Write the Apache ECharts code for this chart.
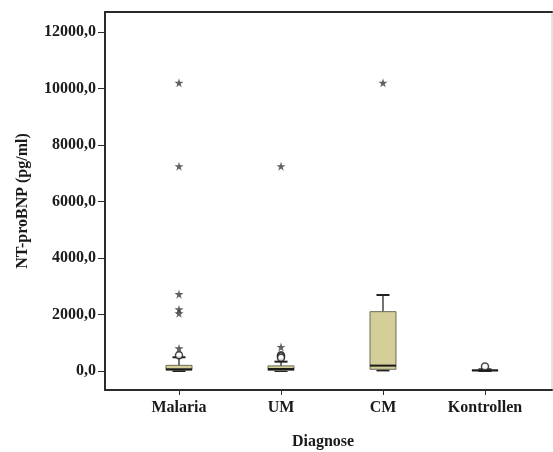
<!DOCTYPE html>
<html>
<head>
<meta charset="utf-8">
<script src="https://cdn.jsdelivr.net/npm/echarts@6/dist/echarts.min.js"></script>
<style>
  html, body { margin: 0; padding: 0; background: #fff; }
  #chart { width: 553px; height: 452px; }
</style>
</head>
<body>
<div id="chart"></div>
<script>
// Diagnosis groups along the x axis
const categories = ['Malaria', 'UM', 'CM', 'Kontrollen'];

// Five-number summaries per group: [min, Q1, median, Q3, max] in pg/ml
const boxStats = [
  [0, 30, 60, 200, 485],
  [0, 20, 70, 180, 330],
  [20, 60, 190, 2100, 2690],
  [0, 10, 20, 35, 60]
];

// Extreme values (asterisks) and outliers (circles) per group
const extremes = [
  [10200, 7250, 2720, 2180, 2040, 800],
  [7250, 850],
  [10200],
  []
];
const outliers = [
  [560],
  [560, 520, 470],
  [],
  [160]
];

// Tick labels on the value axis
const yTicks = [0, 2000, 4000, 6000, 8000, 10000, 12000];

const labelFont = {
  fontFamily: '"Liberation Serif", "Times New Roman", serif',
  fontWeight: 'bold',
  fontSize: 16,
  color: '#1a1a1a'
};

const positions = categories.map((c, i) => i + 1);

const boxData = boxStats.map((s, i) => [positions[i]].concat(s));
const extremeData = [];
extremes.forEach((vals, i) => vals.forEach(v => extremeData.push([positions[i], v])));
const outlierData = [];
outliers.forEach((vals, i) => vals.forEach(v => outlierData.push([positions[i], v])));

const starPath = 'path://M50,0 L61,35 L98,35 L68,57 L79,91 L50,70 L21,91 L32,57 L2,35 L39,35 Z';

function renderBox(params, api) {
  const x = api.value(0);
  const pMin = api.coord([x, api.value(1)]);
  const pQ1 = api.coord([x, api.value(2)]);
  const pMed = api.coord([x, api.value(3)]);
  const pQ3 = api.coord([x, api.value(4)]);
  const pMax = api.coord([x, api.value(5)]);
  const cx = pMed[0];
  const half = 13;
  const cap = 6.5;
  const lineStyle = { stroke: '#222', lineWidth: 2 };
  return {
    type: 'group',
    children: [
      { type: 'line', shape: { x1: cx, y1: pQ3[1], x2: cx, y2: pMax[1] }, style: { stroke: '#444', lineWidth: 1.5 } },
      { type: 'line', shape: { x1: cx, y1: pQ1[1], x2: cx, y2: pMin[1] }, style: { stroke: '#444', lineWidth: 1.5 } },
      { type: 'line', shape: { x1: cx - cap, y1: pMax[1], x2: cx + cap, y2: pMax[1] }, style: lineStyle },
      { type: 'line', shape: { x1: cx - cap, y1: pMin[1], x2: cx + cap, y2: pMin[1] }, style: lineStyle },
      { type: 'rect', shape: { x: cx - half, y: pQ3[1], width: half * 2, height: pQ1[1] - pQ3[1] },
        style: { fill: '#d4cf98', stroke: '#6b6b5a', lineWidth: 1 } },
      { type: 'line', shape: { x1: cx - half, y1: pMed[1], x2: cx + half, y2: pMed[1] }, style: { stroke: '#1a1a1a', lineWidth: 2 } }
    ]
  };
}

const chart = echarts.init(document.getElementById('chart'), null, { renderer: 'canvas' });
chart.setOption({
  animation: false,
  backgroundColor: '#fff',
  grid: {
    left: 105, right: 1, top: 12, bottom: 62,
    outerBoundsMode: 'none',
    containLabel: false,
    show: true, borderColor: '#c8c8c8', borderWidth: 1
  },
  xAxis: [{
    type: 'value',
    min: 0.2745,
    max: 4.657,
    name: 'Diagnose',
    nameLocation: 'middle',
    nameGap: 44,
    nameTextStyle: Object.assign({}, labelFont, { padding: [0, 11, 0, 0] }),
    axisLine: { show: true, onZero: false, lineStyle: { color: '#2b2b2b', width: 2 } },
    axisTick: { show: true, length: 5, customValues: positions, lineStyle: { color: '#2b2b2b', width: 1 } },
    axisLabel: Object.assign({}, labelFont, {
      customValues: positions,
      margin: 10,
      formatter: v => categories[Math.round(v) - 1] || ''
    }),
    splitLine: { show: false }
  }, {
    type: 'value',
    position: 'top',
    min: 0.2745,
    max: 4.657,
    axisLine: { show: true, onZero: false, lineStyle: { color: '#2b2b2b', width: 2 } },
    axisTick: { show: false },
    axisLabel: { show: false },
    splitLine: { show: false }
  }],
  yAxis: {
    type: 'value',
    min: -673,
    max: 12708,
    name: 'NT-proBNP (pg/ml)',
    nameLocation: 'middle',
    nameGap: 74,
    nameTextStyle: labelFont,
    axisLine: { show: true, onZero: false, lineStyle: { color: '#2b2b2b', width: 2 } },
    axisTick: { show: true, length: 7, customValues: yTicks, lineStyle: { color: '#2b2b2b', width: 1 } },
    axisLabel: Object.assign({}, labelFont, {
      customValues: yTicks,
      margin: 9,
      formatter: v => v.toFixed(1).replace('.', ',')
    }),
    splitLine: { show: false }
  },
  series: [{
    type: 'custom',
    renderItem: renderBox,
    data: boxData,
    encode: { x: 0, y: [1, 2, 3, 4, 5] },
    z: 2
  }, {
    type: 'scatter',
    data: outlierData,
    symbol: 'circle',
    symbolSize: 7,
    itemStyle: { color: '#fff', borderColor: '#1a1a1a', borderWidth: 1.5 },
    z: 3
  }, {
    type: 'scatter',
    data: extremeData,
    symbol: starPath,
    symbolSize: 9,
    itemStyle: { color: '#3a3a3a' },
    z: 3
  }]
});
</script>
</body>
</html>
